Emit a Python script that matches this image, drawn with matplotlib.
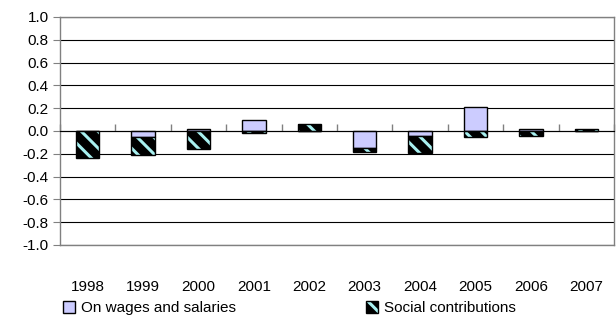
import numpy as np
import matplotlib
matplotlib.use("Agg")
import matplotlib.pyplot as plt
from matplotlib.patches import Patch
from matplotlib.ticker import FuncFormatter

plt.rcParams["font.family"] = ["Liberation Sans", "DejaVu Sans"]
plt.rcParams["hatch.linewidth"] = 2.2

years = ["1998", "1999", "2000", "2001", "2002", "2003", "2004", "2005", "2006", "2007"]
wages = [0.0, -0.05, 0.015, 0.10, 0.0, -0.15, -0.045, 0.21, 0.02, 0.0]
social = [-0.24, -0.16, -0.16, -0.015, 0.065, -0.035, -0.145, -0.055, -0.045, 0.02]

lavender = "#ccccff"
stripe = "#a8f0f0"
axis_grey = "#808080"

x = np.arange(len(years))
w = np.array(wages)
s = np.array(social)
# positives stack up from zero, negatives stack down
s_bottom = np.where(w * s > 0, w, 0.0)

fig = plt.figure(figsize=(6.16, 3.22), dpi=100)
ax = fig.add_axes([60 / 616, 1 - 245 / 322, 554 / 616, 228 / 322])

width = 0.42
ax.bar(x, w, width, color=lavender, edgecolor="black", linewidth=1, zorder=3)
ax.bar(x, s, width, bottom=s_bottom, color="black", hatch="\\\\",
       edgecolor=stripe, linewidth=0, zorder=3)
ax.bar(x, s, width, bottom=s_bottom, fill=False, edgecolor="black",
       linewidth=1, zorder=4)

ax.set_ylim(-1.0, 1.0)
ax.set_xlim(-0.5, len(years) - 0.5)
ax.set_yticks(np.round(np.arange(-1.0, 1.01, 0.2), 1))
ax.yaxis.set_major_formatter(FuncFormatter(lambda v, _: f"{v + 0.0:.1f}"))
ax.yaxis.grid(True, color="black", linewidth=0.8)
ax.set_axisbelow(True)

ax.set_xticks(x, years)
ax.tick_params(axis="x", length=0, pad=25, labelsize=11)
ax.tick_params(axis="y", length=5, color=axis_grey, labelsize=11, pad=3)
for sp in ax.spines.values():
    sp.set_color(axis_grey)
    sp.set_linewidth(1)

# category axis sits on the zero line with ticks between the years
zero_axis = ax.secondary_xaxis(0.5)
zero_axis.set_xticks(np.arange(-0.5, len(years), 1.0), labels=[])
zero_axis.tick_params(direction="out", length=5, color=axis_grey, width=1)
zero_axis.spines["bottom"].set_color(axis_grey)
zero_axis.spines["bottom"].set_linewidth(1)
zero_axis.set_zorder(5)

handles = [
    Patch(facecolor=lavender, edgecolor="black", linewidth=1),
    (Patch(facecolor="black", hatch="\\\\", edgecolor=stripe, linewidth=0),
     Patch(fill=False, edgecolor="black", linewidth=1)),
]
fig.legend(handles, ["On wages and salaries", "Social contributions"],
           loc="center", bbox_to_anchor=(0.47, 1 - 308 / 322), ncol=2,
           frameon=False, fontsize=11, handlelength=0.8, handleheight=0.8,
           handletextpad=0.4, columnspacing=8.5)

fig.savefig("out.png", dpi=100)
